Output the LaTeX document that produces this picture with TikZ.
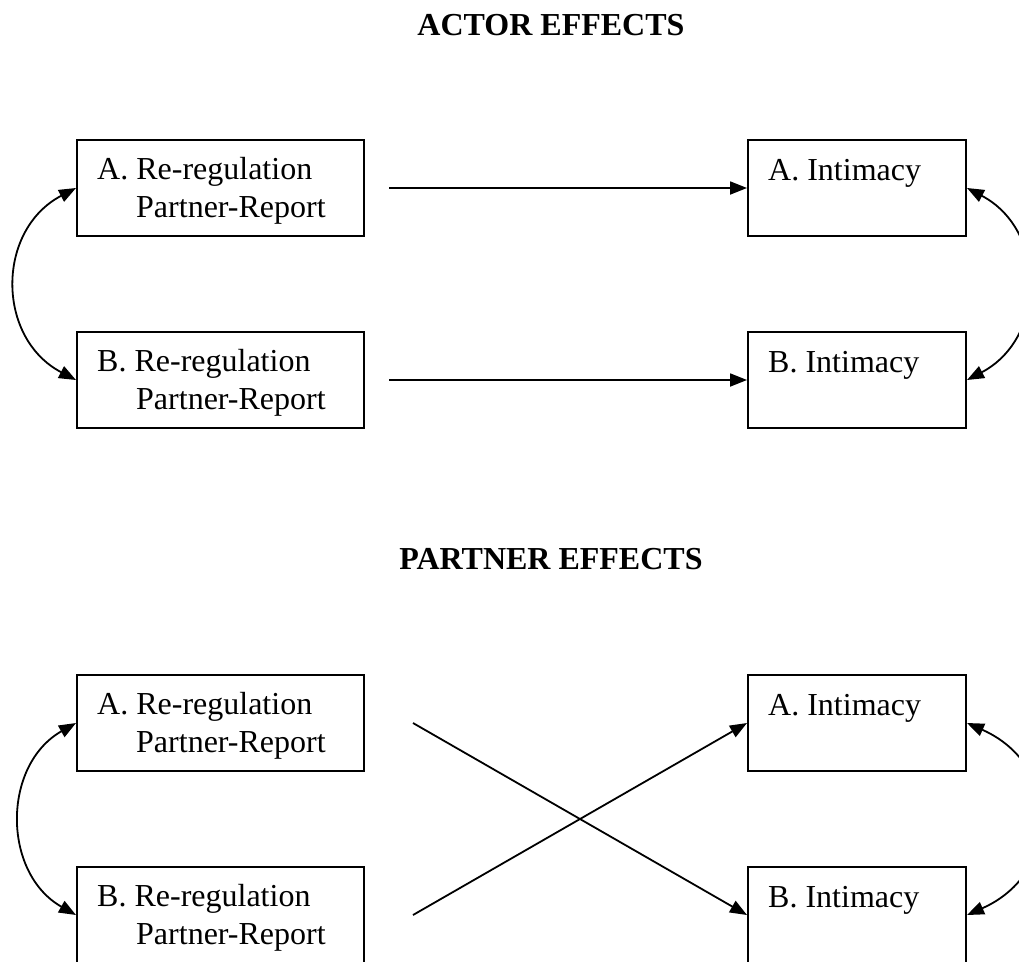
\documentclass[tikz,border=0pt]{standalone}
\usepackage{fontspec}
\setmainfont{Liberation Serif}
\usetikzlibrary{arrows.meta}

\begin{document}
\begin{tikzpicture}[x=1pt,y=-1pt,
  varbox/.style={draw,line width=2pt,inner sep=0pt,minimum height=96pt},
  leftbox/.style={varbox,minimum width=287pt},
  rightbox/.style={varbox,minimum width=218pt},
  lbl/.style={anchor=base west,inner sep=0pt,font=\fontsize{32}{38}\selectfont},
  heading/.style={anchor=base,inner sep=0pt,font=\fontsize{32}{38}\selectfont\bfseries},
  path/.style={line width=1.8pt,-{Triangle[length=17pt,width=13pt]}},
  corr/.style={line width=1.8pt,{Triangle[length=17pt,width=13pt]}-{Triangle[length=17pt,width=13pt]}}
]
\useasboundingbox (0,0) rectangle (1019,961);
\clip (0,0) rectangle (1019,961);

% ---------- actor effects ----------
\node[heading] (t1) at (551,35) {ACTOR EFFECTS};

\node[leftbox]  (ra1) at (220.5,188) {};
\node[leftbox]  (rb1) at (220.5,380) {};
\node[rightbox] (ia1) at (857,188) {};
\node[rightbox] (ib1) at (857,380) {};

\node[lbl] (ra1a) at ([shift={(21,40)}]ra1.north west) {A. Re-regulation};
\node[lbl] (ra1b) at ([shift={(60,78)}]ra1.north west) {Partner-Report};
\node[lbl] (rb1a) at ([shift={(21,40)}]rb1.north west) {B. Re-regulation};
\node[lbl] (rb1b) at ([shift={(60,78)}]rb1.north west) {Partner-Report};
\node[lbl] (ia1a) at ([shift={(21,41)}]ia1.north west) {A. Intimacy};
\node[lbl] (ib1a) at ([shift={(21,41)}]ib1.north west) {B. Intimacy};

\draw[path] ([xshift=24pt]ra1.east) -- (ia1.west);
\draw[path] ([xshift=24pt]rb1.east) -- (ib1.west);
\draw[corr] (ra1.west) .. controls +(-80,42) and +(-80,-42) .. (rb1.west);
\draw[corr] (ia1.east) .. controls +(80,42) and +(80,-42) .. (ib1.east);

% ---------- partner effects ----------
\node[heading] (t2) at (551,569) {PARTNER EFFECTS};

\node[leftbox]  (ra2) at (220.5,723) {};
\node[leftbox]  (rb2) at (220.5,915) {};
\node[rightbox] (ia2) at (857,723) {};
\node[rightbox] (ib2) at (857,915) {};

\node[lbl] (ra2a) at ([shift={(21,40)}]ra2.north west) {A. Re-regulation};
\node[lbl] (ra2b) at ([shift={(60,78)}]ra2.north west) {Partner-Report};
\node[lbl] (rb2a) at ([shift={(21,40)}]rb2.north west) {B. Re-regulation};
\node[lbl] (rb2b) at ([shift={(60,78)}]rb2.north west) {Partner-Report};
\node[lbl] (ia2a) at ([shift={(21,41)}]ia2.north west) {A. Intimacy};
\node[lbl] (ib2a) at ([shift={(21,41)}]ib2.north west) {B. Intimacy};

\draw[path] ([xshift=48pt]ra2.east) -- (ib2.west);
\draw[path] ([xshift=48pt]rb2.east) -- (ia2.west);
\draw[corr] (ra2.west) .. controls +(-74,42) and +(-74,-42) .. (rb2.west);
\draw[corr] (ia2.east) .. controls +(95,42) and +(95,-42) .. (ib2.east);
\end{tikzpicture}
\end{document}
